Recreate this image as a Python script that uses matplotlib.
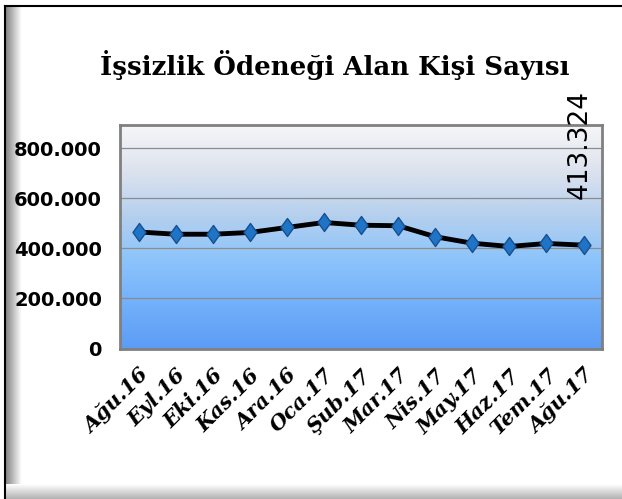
import matplotlib.pyplot as plt
import numpy as np
from matplotlib.colors import LinearSegmentedColormap
from matplotlib.path import Path

# Data
months = ['Ağu.16', 'Eyl.16', 'Eki.16', 'Kas.16', 'Ara.16', 'Oca.17', 'Şub.17',
          'Mar.17', 'Nis.17', 'May.17', 'Haz.17', 'Tem.17', 'Ağu.17']
values = [466000, 457000, 457000, 464000, 484000, 504000, 493000,
          491000, 447000, 421000, 408000, 420000, 413324]
last_label = '413.324'
yticks = [0, 200000, 400000, 600000, 800000]
ytick_labels = ['0', '200.000', '400.000', '600.000', '800.000']

fig = plt.figure(figsize=(6.22, 4.99), dpi=100)

# outer frame with shadow on left and bottom
W, H = 622, 499
bg = fig.add_axes([0, 0, 1, 1], zorder=-5)
bg.axis('off')
left_shade = np.linspace(0.5, 1.0, 30).reshape(1, -1)
bg.imshow(left_shade, cmap='gray', vmin=0, vmax=1, extent=[5, 22, 499, 6],
          aspect='auto', interpolation='bilinear')
bottom_shade = np.linspace(1.0, 0.7, 30).reshape(-1, 1)
bg.imshow(bottom_shade, cmap='gray', vmin=0, vmax=1, extent=[5, 622, 499, 484],
          aspect='auto', interpolation='bilinear')
bg.set_xlim(0, W)
bg.set_ylim(H, 0)
bg.plot([4.5, 4.5], [6, 499], color='black', lw=1.5)
bg.plot([4.5, 622], [6, 6], color='black', lw=1.5)

# plot area
ax = fig.add_axes([0.193, 0.3016, 0.775, 0.448])
grad = LinearSegmentedColormap.from_list(
    'g', ['#5c9cf5', '#72b0fa', '#8cc4fb', '#b6d0ee', '#dde3ee', '#f6f6f8'])
ax.imshow(np.linspace(0, 1, 256).reshape(-1, 1), cmap=grad, origin='lower',
          extent=[0, 1, 0, 1], transform=ax.transAxes, aspect='auto', zorder=0)

diamond = Path([(0, 1), (0.72, 0), (0, -1), (-0.72, 0), (0, 1)],
               [Path.MOVETO, Path.LINETO, Path.LINETO, Path.LINETO, Path.CLOSEPOLY])

x = np.arange(len(months))
ax.plot(x, values, color='black', lw=3.5, zorder=3, solid_joinstyle='round')
ax.plot(x, values, ls='none', marker=diamond, ms=13, mfc='#1f74c8', mec='#17508e',
        mew=1, zorder=4)

ax.set_xlim(-0.5, len(months) - 0.5)
ax.set_ylim(0, 894000)
ax.set_yticks(yticks)
ax.set_yticklabels(ytick_labels, fontsize=14, fontweight='bold', family='DejaVu Sans')
ax.yaxis.grid(True, color='#8c8c8c', lw=0.9)
ax.tick_params(axis='y', length=0, pad=13)
ax.tick_params(axis='x', length=0, pad=12)
ax.set_xticks(x)
ax.set_xticklabels(months, rotation=45, ha='right', va='top', rotation_mode='anchor',
                   fontsize=15, fontweight='bold', fontstyle='italic', family='DejaVu Serif')
for s in ax.spines.values():
    s.set_color('#808080')
    s.set_linewidth(2)

ax.text(x[-1] - 0.1, 596000, last_label, rotation=90, ha='center', va='bottom',
        fontsize=19, family='DejaVu Sans', clip_on=False)

fig.text(335 / W, 1 - 65 / H, 'İşsizlik Ödeneği Alan Kişi Sayısı', ha='center', va='center',
         fontsize=18.7, fontweight='bold', family='DejaVu Serif')

fig.savefig('out.png', dpi=100)
